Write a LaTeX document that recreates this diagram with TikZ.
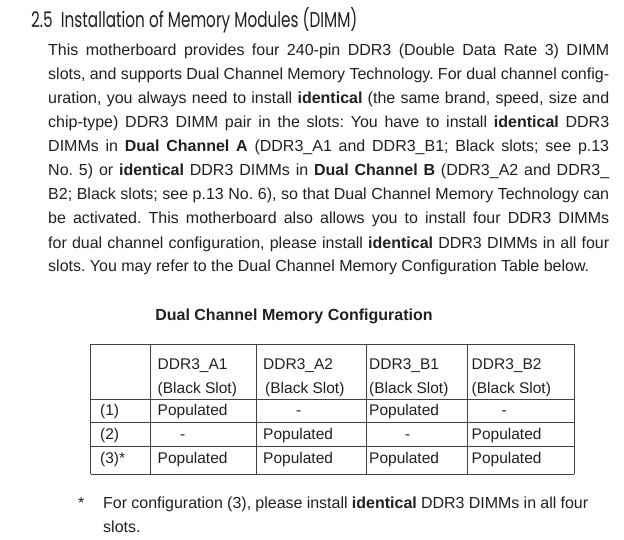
\documentclass[tikz,border=0pt]{standalone}
\usepackage{fontspec}
\setmainfont{Liberation Sans}
\newfontfamily\headfont{Poppins}
\definecolor{ink}{HTML}{231F20}
\frenchspacing
\newcommand{\jline}[2][561pt]{\makebox[#1][s]{#2}}
\tikzset{
  txt/.style={anchor=base west, inner sep=0pt, text=ink, font=\fontsize{16}{19}\selectfont},
  cell/.style={anchor=base west, inner sep=0pt, text=ink, font=\fontsize{15.5}{18}\selectfont},
  rule/.style={draw=ink!85, line width=1pt}
}

\begin{document}
\begin{tikzpicture}[x=1pt, y=-1pt]
\useasboundingbox (0,0) rectangle (624,540);
% heading
\node[txt, font=\headfont\fontsize{21.5}{24}\selectfont] (head) at (31,28) {\scalebox{0.71}[1]{2.5\ \ Installation of Memory Modules (DIMM)}};
% body text
\node[txt] (l1) at (48,56) {\jline{This motherboard provides four 240-pin DDR3 (Double Data Rate 3) DIMM}};
\node[txt] (l2) at (48,80) {\jline{slots, and supports Dual Channel Memory Technology. For dual channel config-}};
\node[txt] (l3) at (48,104) {\jline{uration, you always need to install \textbf{identical} (the same brand, speed, size and}};
\node[txt] (l4) at (48,128) {\jline{chip-type) DDR3 DIMM pair in the slots: You have to install \textbf{identical} DDR3}};
\node[txt] (l5) at (48,152) {\jline{DIMMs in \textbf{Dual Channel A} (DDR3\_A1 and DDR3\_B1; Black slots; see p.13}};
\node[txt] (l6) at (48,176) {\jline{No. 5) or \textbf{identical} DDR3 DIMMs in \textbf{Dual Channel B} (DDR3\_A2 and DDR3\_}};
\node[txt] (l7) at (48,200) {\jline{B2; Black slots; see p.13 No. 6), so that Dual Channel Memory Technology can}};
\node[txt] (l8) at (48,224) {\jline{be activated. This motherboard also allows you to install four DDR3 DIMMs}};
\node[txt] (l9) at (48,248) {\jline{for dual channel configuration, please install \textbf{identical} DDR3 DIMMs in all four}};
\node[txt] (l10) at (48,272) {slots. You may refer to the Dual Channel Memory Configuration Table below.};
% table
\node[txt, anchor=base, font=\bfseries\fontsize{16}{19}\selectfont] (title) at (294,320) {Dual Channel Memory Configuration};
\foreach \y in {344,399,422,446,474}
  \draw[rule] (90.5,\y) -- (574,\y);
\foreach \x in {90.5,150.7,256.7,366.7,467.7,574}
  \draw[rule] (\x,344) -- (\x,474);
\foreach \x/\sx/\slot [count=\i] in {157.5/157.5/A1, 263/265/A2, 369/369/B1, 471.5/471.5/B2}{
  \node[cell] (h\i) at (\x,369) {DDR3\_\slot};
  \node[cell] (s\i) at (\sx,393) {(Black Slot)};
}
\node[cell] (r1) at (100,415) {(1)};
\node[cell] (r2) at (100,439) {(2)};
\node[cell] (r3) at (100,463) {(3)*};
\node[cell] (r1a) at (157.5,415) {Populated};
\node[cell] (r1b) at (296,415) {-};
\node[cell] (r1c) at (369,415) {Populated};
\node[cell] (r1d) at (501.5,415) {-};
\node[cell] (r2a) at (180,439) {-};
\node[cell] (r2b) at (263,439) {Populated};
\node[cell] (r2c) at (405,439) {-};
\node[cell] (r2d) at (471.5,439) {Populated};
\node[cell] (r3a) at (157.5,463) {Populated};
\node[cell] (r3b) at (263,463) {Populated};
\node[cell] (r3c) at (369,463) {Populated};
\node[cell] (r3d) at (471.5,463) {Populated};
% footnote
\node[txt] (star) at (78,508) {*};
\node[txt] (f1) at (103,508) {\jline[485pt]{For configuration (3), please install \textbf{identical} DDR3 DIMMs in all four}};
\node[txt] (f2) at (103,532) {slots.};
\end{tikzpicture}
\end{document}
